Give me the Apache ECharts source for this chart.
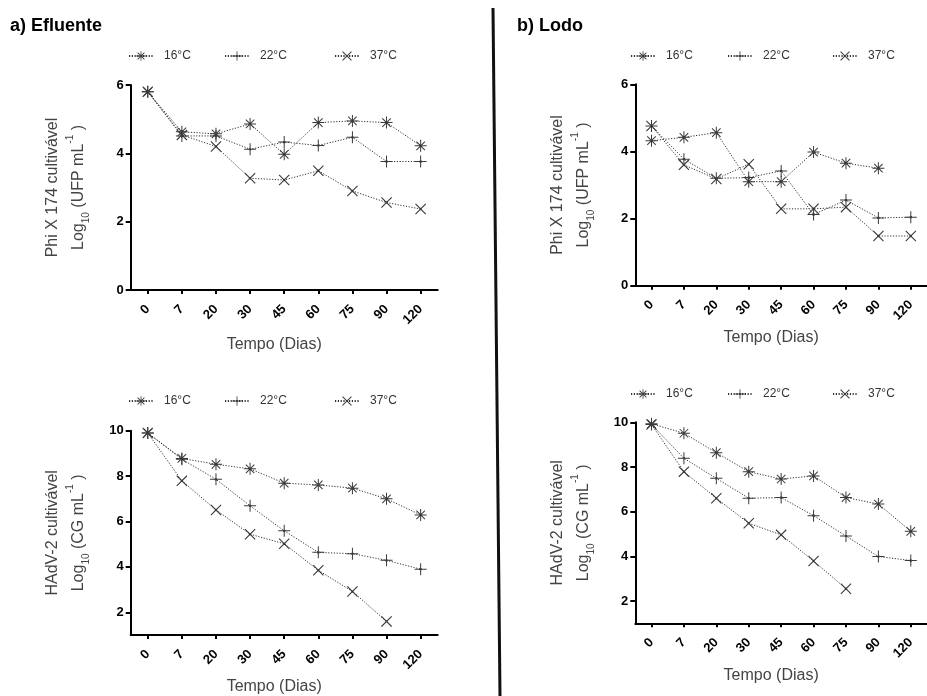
<!DOCTYPE html>
<html>
<head>
<meta charset="utf-8">
<script src="https://cdn.jsdelivr.net/npm/echarts@6/dist/echarts.min.js"></script>
<style>
  html, body { margin: 0; padding: 0; background: #fff; }
  #chart { width: 927px; height: 696px; }
</style>
</head>
<body>
<div id="chart"></div>
<script>
// Sampling days (category axis)
const days = ['0', '7', '20', '30', '45', '60', '75', '90', '120'];
const temps = ['16°C', '22°C', '37°C'];

// a) Efluente — Phi X 174, log10 UFP/mL
const efPhi16 = [5.80, 4.63, 4.57, 4.86, 3.97, 4.90, 4.95, 4.90, 4.22];
const efPhi22 = [5.80, 4.51, 4.51, 4.12, 4.33, 4.23, 4.47, 3.76, 3.76];
const efPhi37 = [5.80, 4.54, 4.20, 3.27, 3.22, 3.49, 2.90, 2.56, 2.37];

// a) Efluente — HAdV-2, log10 CG/mL
const efAdv16 = [9.90, 8.78, 8.52, 8.32, 7.69, 7.61, 7.47, 7.00, 6.29];
const efAdv22 = [9.90, 8.74, 7.86, 6.69, 5.59, 4.64, 4.58, 4.29, 3.90];
const efAdv37 = [9.90, 7.79, 6.51, 5.44, 5.02, 3.85, 2.92, 1.60, null];

// b) Lodo — Phi X 174, log10 UFP/mL
const loPhi16 = [4.32, 4.42, 4.56, 3.10, 3.10, 3.98, 3.65, 3.50, null];
const loPhi22 = [4.76, 3.77, 3.20, 3.22, 3.42, 2.12, 2.55, 2.02, 2.04];
const loPhi37 = [4.76, 3.60, 3.18, 3.62, 2.29, 2.29, 2.34, 1.48, 1.48];

// b) Lodo — HAdV-2, log10 CG/mL
const loAdv16 = [9.93, 9.51, 8.64, 7.79, 7.46, 7.60, 6.63, 6.34, 5.12];
const loAdv22 = [9.90, 8.39, 7.49, 6.60, 6.63, 5.82, 4.91, 3.99, 3.81];
const loAdv37 = [9.90, 7.79, 6.60, 5.48, 4.96, 3.79, 2.55, null, null];

// y tick labels
const phiTicks = [0, 2, 4, 6];
const advTicks = [2, 4, 6, 8, 10];

// ---- marker shapes: thin filled bars (+, ×, asterisk) with a centre dot ----
function bar(angleDeg, L, T) {
  const a = angleDeg * Math.PI / 180, c = Math.cos(a), s = Math.sin(a);
  const pts = [[-L, -T], [L, -T], [L, T], [-L, T]].map(([x, y]) =>
    [(x * c - y * s).toFixed(3), (x * s + y * c).toFixed(3)]);
  return 'M' + pts.map(p => p.join(' ')).join(' L') + ' Z ';
}
const dot = bar(0, 1.1, 1.1);
const SYM_PLUS = 'path://' + bar(0, 6, 0.5) + bar(90, 6, 0.5) + dot;
const SYM_X = 'path://' + bar(45, 6.5, 0.5) + bar(135, 6.5, 0.5) + dot;
const SYM_STAR = 'path://' + bar(0, 6, 0.5) + bar(90, 6, 0.5) + bar(45, 6, 0.5) + bar(135, 6, 0.5) + dot;
const symbols = [SYM_STAR, SYM_PLUS, SYM_X];
const symbolSizes = [12, 12, 11];

const FONT = 'Arial, "Liberation Sans", Helvetica, sans-serif';

// panel geometry
const panels = [
  { left: 130.7, top: 85.0, width: 307, height: 205, min: 0, max: 6, ticks: phiTicks, unit: 'UFP', virus: 'Phi X 174 cultivável',
    nameGap: 47, data: [efPhi16, efPhi22, efPhi37] },
  { left: 130.7, top: 430.7, width: 307, height: 205, min: 1, max: 10, ticks: advTicks, unit: 'CG', virus: 'HAdV-2 cultivável',
    nameGap: 44, data: [efAdv16, efAdv22, efAdv37] },
  { left: 635.3, top: 84.3, width: 301, height: 201.4, min: 0, max: 6, ticks: phiTicks, unit: 'UFP', virus: 'Phi X 174 cultivável',
    nameGap: 44, data: [loPhi16, loPhi22, loPhi37] },
  { left: 635.3, top: 422.3, width: 301, height: 201, min: 1, max: 10, ticks: advTicks, unit: 'CG', virus: 'HAdV-2 cultivável',
    nameGap: 44, data: [loAdv16, loAdv22, loAdv37] }
];

const grid = [], xAxis = [], yAxis = [], series = [];
panels.forEach((p, i) => {
  grid.push({ left: p.left, top: p.top, width: p.width, height: p.height, containLabel: false });
  xAxis.push({
    type: 'category', gridIndex: i, data: days, boundaryGap: true,
    name: 'Tempo (Dias)', nameLocation: 'middle', nameGap: p.nameGap,
    nameTextStyle: { fontFamily: FONT, fontSize: 16, color: '#444', padding: [0, 20, 0, 0] },
    axisLine: { show: true, lineStyle: { color: '#000', width: 2 } },
    axisTick: { show: true, alignWithLabel: true, length: 4, lineStyle: { color: '#000', width: 2 } },
    axisLabel: { rotate: 45, fontFamily: FONT, fontSize: 13, fontWeight: 'bold', color: '#000', margin: 17 },
    splitLine: { show: false }
  });
  yAxis.push({
    type: 'value', gridIndex: i, min: p.min, max: p.max,
    name: '{a|' + p.virus + '}\n{a|Log}{s|10}{a| (' + p.unit + ' mL}{p|-1}{a| )}',
    nameLocation: 'middle', nameRotate: 90, nameGap: 39,
    nameTextStyle: {
      fontFamily: FONT, color: '#444',
      rich: {
        a: { fontFamily: FONT, fontSize: 16, color: '#444', lineHeight: 26 },
        s: { fontFamily: FONT, fontSize: 10, color: '#444', lineHeight: 12, verticalAlign: 'bottom' },
        p: { fontFamily: FONT, fontSize: 10, color: '#444', lineHeight: 12, verticalAlign: 'top' }
      }
    },
    axisLine: { show: true, lineStyle: { color: '#000', width: 2 } },
    axisTick: { show: true, length: 5, customValues: p.ticks, lineStyle: { color: '#000', width: 2 } },
    axisLabel: { customValues: p.ticks, fontFamily: FONT, fontSize: 13, fontWeight: 'bold', color: '#000', margin: 7 },
    splitLine: { show: false }
  });
  p.data.forEach((d, k) => {
    series.push({
      name: temps[k], type: 'line', xAxisIndex: i, yAxisIndex: i, data: d,
      symbol: symbols[k], symbolSize: symbolSizes[k], symbolKeepAspect: true,
      showAllSymbol: true, animation: false,
      itemStyle: { color: '#3a3a3a' },
      lineStyle: { color: '#333', width: 1, type: [1.2, 1.6] },
      emphasis: { disabled: true }
    });
  });
});

// one legend row above each panel
const legendRows = [
  { y: 57, xs: [128, 224, 334] },
  { y: 402, xs: [128, 224, 334] },
  { y: 57, xs: [630, 727, 832] },
  { y: 395, xs: [630, 727, 832] }
];
const legend = [];
legendRows.forEach(r => {
  temps.forEach((t, k) => {
    legend.push({
      data: [t], left: r.xs[k], top: r.y - 7, itemWidth: 24, itemHeight: 12,
      selectedMode: false, padding: 0,
      textStyle: { fontFamily: FONT, fontSize: 12, color: '#333', padding: [0, 0, 0, 6] }
    });
  });
});

const chart = echarts.init(document.getElementById('chart'), null, { renderer: 'canvas' });
chart.setOption({
  backgroundColor: '#fff',
  animation: false,
  grid, xAxis, yAxis, series, legend,
  graphic: [
    { type: 'text', left: 10, top: 17, style: { text: 'a) Efluente', font: 'bold 18px ' + FONT, fill: '#000' } },
    { type: 'text', left: 517, top: 17, style: { text: 'b) Lodo', font: 'bold 18px ' + FONT, fill: '#000' } },
    { type: 'line', shape: { x1: 493, y1: 8, x2: 500, y2: 696 }, style: { stroke: '#111', lineWidth: 3 } }
  ]
});
</script>
</body>
</html>
